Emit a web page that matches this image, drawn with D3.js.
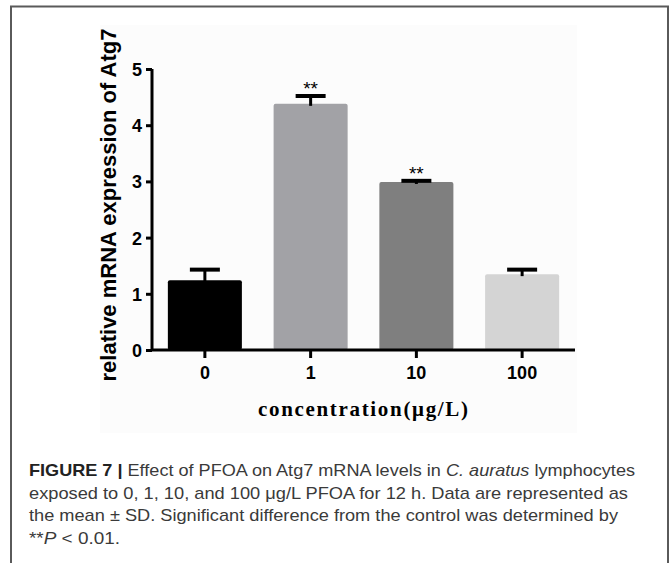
<!DOCTYPE html>
<html lang="en">
<head>
    <meta charset="UTF-8">
    <title>Atg7 mRNA expression</title>
    <script src="https://d3js.org/d3.v7.min.js"></script>
    <style>
        body { margin: 0; background: #fff; }
        .tick text { font-family: Arial, "Liberation Sans", sans-serif; font-weight: bold; font-size: 18px; fill: #000; }
        .caption { font-family: Arial, "Liberation Sans", sans-serif; font-size: 17px; fill: #3a3a3a; }
    </style>
</head>
<body>
    <svg width="671" height="563"></svg>
    <script>
        const svg = d3.select("svg");

        // data
        const categories = ["0", "1", "10", "100"];
        const means = [1.24, 4.38, 2.99, 1.35];
        const sds = [0.19, 0.14, 0.02, 0.08];
        const signif = ["", "**", "**", ""];
        const barColors = ["#000000", "#a2a2a6", "#7f7f7f", "#d4d4d4"];
        const yTicks = [0, 1, 2, 3, 4, 5];

        // frame around the figure + caption
        svg.append("path")
            .attr("d", "M11,563 V6.5 H668 V563")
            .attr("fill", "none")
            .attr("stroke", "#5a5a5a")
            .attr("stroke-width", 2);

        // faint background of the pasted chart image
        svg.append("rect")
            .attr("x", 100).attr("y", 25)
            .attr("width", 477).attr("height", 408)
            .attr("fill", "#fcfcfc");

        const x = d3.scaleBand()
            .domain(categories)
            .range([152, 575])
            .paddingInner(0.3)
            .paddingOuter(0.15);

        const y = d3.scaleLinear()
            .domain([0, 5])
            .range([350, 69]);

        // bars
        svg.selectAll(".bar")
            .data(categories)
            .enter()
            .append("rect")
            .attr("class", "bar")
            .attr("x", d => x(d))
            .attr("y", (d, i) => y(means[i]))
            .attr("width", x.bandwidth())
            .attr("height", (d, i) => y(0) - y(means[i]))
            .attr("rx", 2)
            .attr("fill", (d, i) => barColors[i]);

        // error bars (upper half only)
        const capW = 30;
        categories.forEach((c, i) => {
            const cx = x(c) + x.bandwidth() / 2;
            const top = y(means[i] + sds[i]);
            svg.append("line")
                .attr("x1", cx).attr("x2", cx)
                .attr("y1", y(means[i]) + 2).attr("y2", top)
                .attr("stroke", "#000").attr("stroke-width", 3);
            svg.append("line")
                .attr("x1", cx - capW / 2).attr("x2", cx + capW / 2)
                .attr("y1", top).attr("y2", top)
                .attr("stroke", "#000").attr("stroke-width", 4);
            if (signif[i]) {
                svg.append("text")
                    .attr("x", cx)
                    .attr("y", top - 1)
                    .attr("text-anchor", "middle")
                    .style("font-family", "Arial, 'Liberation Sans', sans-serif")
                    .style("font-size", "19px")
                    .text(signif[i]);
            }
        });

        // axes
        const yAxis = svg.append("g")
            .attr("transform", "translate(152,0)")
            .call(d3.axisLeft(y).tickValues(yTicks).tickFormat(d3.format("d")).tickSize(6).tickPadding(4));
        const xAxis = svg.append("g")
            .attr("transform", "translate(0,350)")
            .call(d3.axisBottom(x).tickSize(8).tickPadding(8));
        xAxis.select(".domain").attr("d", "M152,0H575");
        yAxis.select(".domain").attr("d", "M0,69V350");
        [xAxis, yAxis].forEach(g => {
            g.select(".domain").attr("stroke", "#000").attr("stroke-width", 3);
            g.selectAll(".tick line").attr("stroke", "#000").attr("stroke-width", 3);
        });
        yAxis.selectAll(".tick text").attr("dy", "0.36em");

        // axis titles
        svg.append("text")
            .attr("transform", "translate(116,205) rotate(-90)")
            .attr("text-anchor", "middle")
            .style("font-family", "Arial, 'Liberation Sans', sans-serif")
            .style("font-weight", "bold")
            .style("font-size", "22px")
            .text("relative mRNA expression of Atg7");

        svg.append("text")
            .attr("x", 258)
            .attr("y", 416)
            .attr("textLength", 210)
            .attr("lengthAdjust", "spacing")
            .style("font-family", "'Liberation Serif', 'Times New Roman', serif")
            .style("font-weight", "bold")
            .style("font-size", "21px")
            .text("concentration(\u03bcg/L)");

        // caption
        const capLines = [
            [{ t: "FIGURE 7 | ", b: true }, { t: "Effect of PFOA on Atg7 mRNA levels in " }, { t: "C. auratus", i: true }, { t: " lymphocytes" }],
            [{ t: "exposed to 0, 1, 10, and 100 \u03bcg/L PFOA for 12 h. Data are represented as" }],
            [{ t: "the mean \u00b1 SD. Significant difference from the control was determined by" }],
            [{ t: "**" }, { t: "P", i: true }, { t: " < 0.01." }]
        ];
        const capEnds = [635, 628, 618, 120];
        capLines.forEach((parts, k) => {
            const t = svg.append("text")
                .attr("class", "caption")
                .attr("x", 29)
                .attr("y", 476 + k * 22.5)
                .attr("textLength", capEnds[k] - 29)
                .attr("lengthAdjust", "spacingAndGlyphs");
            parts.forEach(p => {
                t.append("tspan")
                    .style("font-weight", p.b ? "bold" : null)
                    .style("font-style", p.i ? "italic" : null)
                    .style("fill", p.b ? "#222" : null)
                    .text(p.t);
            });
        });
    </script>
</body>
</html>
